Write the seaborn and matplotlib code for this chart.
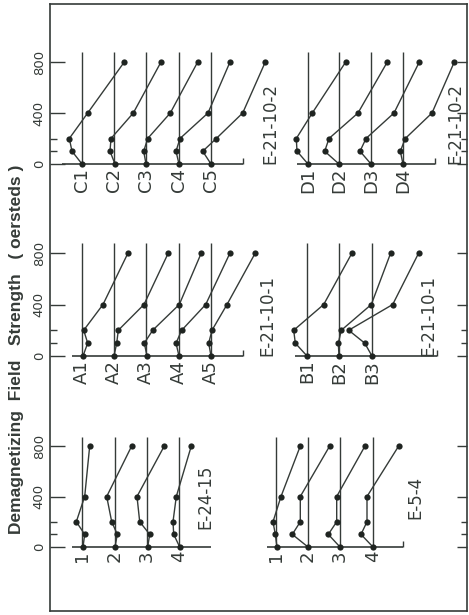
import numpy as np
import pandas as pd
import matplotlib
matplotlib.use("Agg")
import matplotlib.pyplot as plt
import seaborn as sns

# ---------------- data ----------------
fields = [0, 100, 200, 400, 800]          # demagnetizing field, oersteds
major_ticks = [0, 400, 800]
major_tick_labels = ["0", "400", "800"]
minor_ticks = [100, 200]
y_label = "Demagnetizing  Field   Strength   ( oersteds )"

# horizontal offset of each curve from its own reference line (arbitrary units)
c_names = ["C1", "C2", "C3", "C4", "C5"]
c_values = [[0, -10, -12.7, 5.7, 42.3],
            [1, -4, -3, 19.3, 47],
            [0, -2.3, 1.7, 24.3, 51.7],
            [0, -3, 1, 29, 51],
            [0, -8.3, 5.3, 31.7, 54.3]]
c_label = "E-21-10-2"

d_names = ["D1", "D2", "D3", "D4"]
d_values = [[0, -11, -11.7, 4.3, 37.7],
            [0, -14.3, -10, 19, 48.3],
            [0, -11, -5, 23, 48.3],
            [0, -2.7, 2.3, 29, 51.3]]
d_label = "E-21-10-2"

a_names = ["A1", "A2", "A3", "A4", "A5"]
a_values = [[1, 5.7, 1.7, 21, 46],
            [0, 2.7, 4.3, 30, 54.3],
            [1, -1.7, 6.7, 33.3, 55.3],
            [0, -3, 2.7, 26.7, 51],
            [0, -2.3, 1, 16, 44.3]]
a_label = "E-21-10-1"

b_names = ["B1", "B2", "B3"]
b_values = [[0, -11.7, -13.3, 16.7, 45],
            [0, -0.7, 2.3, 32.3, 51.7],
            [0, -7.3, -23.3, 20.7, 46.7]]
b_label = "E-21-10-1"

e24_names = ["1", "2", "3", "4"]
e24_values = [[1, 2.7, -5.7, 2.7, 7.7],
              [0, 2.3, -3.3, -8.3, 16.7],
              [0.7, 2.7, -7.3, -10, 17.3],
              [0.7, -5.3, -6, -2.7, 12.3]]
e24_label = "E-24-15"

e5_names = ["1", "2", "3", "4"]
e5_values = [[1, -0.7, -3, 5, 24.3],
             [0, -15.7, -7.7, -7.7, 21.7],
             [0, -11.7, -3.3, -3.3, 25],
             [0, -12, -6, -6, 25.7]]
e5_label = "E-5-4"

# ---------------- layout (pixels of a 469 x 615 image) ----------------
W, H = 469, 615
FL, FR, FT, FB = 50, 467, 4, 611
row_zero_px = [164, 356, 547]
row_800_px = [62, 253, 446]
row_bounds = [(4, 200), (200, 392), (392, 611)]
INK = "#353b38"
LINE_TOP = 875

panels = [
    dict(row=0, names=c_names, values=c_values, bases=[32, 64, 96, 129, 161],
         axis=(12, 193), end_tick=True, label=c_label, lx=220, ly=0, lva="bottom"),
    dict(row=0, names=d_names, values=d_values, bases=[258, 289, 321, 353],
         axis=(247, 385), end_tick=True, label=d_label, lx=405, ly=0, lva="bottom"),
    dict(row=1, names=a_names, values=a_values, bases=[32, 64, 96, 129, 161],
         axis=(22, 193), end_tick=True, label=a_label, lx=217, ly=0, lva="bottom"),
    dict(row=1, names=b_names, values=b_values, bases=[257, 289, 322],
         axis=(245, 387), end_tick=True, label=b_label, lx=378, ly=0, lva="bottom"),
    dict(row=2, names=e24_names, values=e24_values, bases=[32, 65, 97, 129],
         axis=(22, 161), end_tick=False, label=e24_label, lx=155, ly=400, lva="center"),
    dict(row=2, names=e5_names, values=e5_values, bases=[226, 258, 290, 323],
         axis=(217, 353), end_tick=True, label=e5_label, lx=365, ly=390, lva="center"),
]

sns.set_theme(style="white")
plt.rcParams["font.family"] = ["DejaVu Sans"]

fig = plt.figure(figsize=(W / 100, H / 100), dpi=100)
fig.patch.set_facecolor("white")

frame = fig.add_axes([FL / W, 1 - FB / H, (FR - FL) / W, (FB - FT) / H])
frame.set_xticks([])
frame.set_yticks([])
frame.set_facecolor("white")
for s in frame.spines.values():
    s.set_visible(True)
    s.set_color(INK)
    s.set_linewidth(1.2)

row_axes = []
for r in range(3):
    top, bot = row_bounds[r]
    z, e = row_zero_px[r], row_800_px[r]
    k = (z - e) / 800.0
    ax = fig.add_axes([FL / W, 1 - bot / H, (FR - FL) / W, (bot - top) / H])
    ax.set_facecolor("none")
    ax.set_xlim(0, FR - FL)
    ax.set_ylim(-(bot - z) / k, (z - top) / k)
    for s in ax.spines.values():
        s.set_visible(False)
    ax.set_xticks([])
    ax.set_yticks(major_ticks)
    ax.set_yticklabels(major_tick_labels, rotation=90, va="center",
                       fontsize=9.5, color=INK)
    ax.set_yticks(minor_ticks, minor=True)
    ax.tick_params(axis="y", which="major", direction="in", length=11,
                   width=1.0, color=INK, left=True, pad=3)
    ax.tick_params(axis="y", which="minor", direction="in", length=5,
                   width=1.0, color=INK, left=True)
    ax2 = ax.twinx()
    ax2.set_ylim(ax.get_ylim())
    for s in ax2.spines.values():
        s.set_visible(False)
    ax2.set_yticks(major_ticks)
    ax2.set_yticklabels([])
    ax2.set_yticks(minor_ticks, minor=True)
    ax2.tick_params(axis="y", which="major", direction="in", length=7,
                    width=1.0, color=INK, right=True)
    ax2.tick_params(axis="y", which="minor", direction="in", length=4,
                    width=1.0, color=INK, right=True)
    ax2.set_facecolor("none")
    ax.set_ylabel("")
    ax.set_xlabel("")
    row_axes.append(ax)

for p in panels:
    ax = row_axes[p["row"]]
    bases = p["bases"]
    ax.vlines(bases, 0, LINE_TOP, color=INK, lw=1.0)
    x0, x1 = p["axis"]
    ax.hlines(0, x0, x1, color=INK, lw=1.2)
    if p["end_tick"]:
        ax.vlines(x1, 0, 45, color=INK, lw=1.0)
    recs = []
    for name, b, vals in zip(p["names"], bases, p["values"]):
        for f, v in zip(fields, vals):
            recs.append({"sample": name, "field": f, "x": b + v})
    df = pd.DataFrame(recs)
    sns.lineplot(data=df, x="x", y="field", units="sample", estimator=None,
                 sort=False, color=INK, lw=1.0, marker="o", markersize=4.5,
                 markeredgewidth=0, markerfacecolor="#1f2421", legend=False,
                 ax=ax)
    for name, b in zip(p["names"], bases):
        ax.text(b, -30, name, rotation=90, ha="center", va="top",
                fontsize=13, color=INK)
    ax.text(p["lx"], p["ly"], p["label"], rotation=90, ha="center",
            va=p["lva"], fontsize=12, color=INK)
    ax.set_xlabel("")
    ax.set_ylabel("")

fig.text(17 / W, 1 - 349 / H, y_label, rotation=90, ha="center", va="center",
         fontsize=12.5, fontweight="bold", color=INK,
         family=["Liberation Sans", "DejaVu Sans"])

fig.savefig("out.png", dpi=100, facecolor="white")
